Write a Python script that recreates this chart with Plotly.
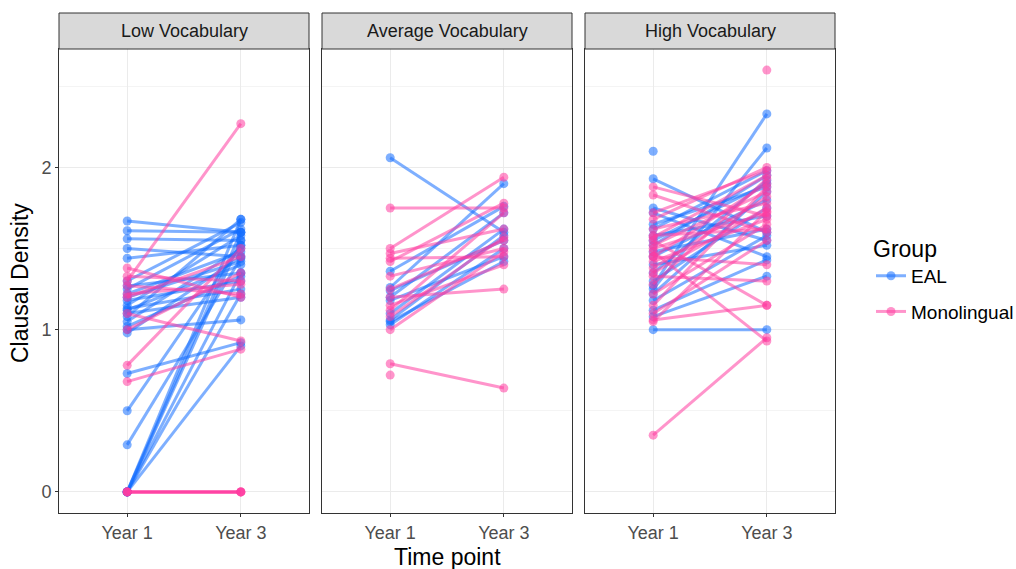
import plotly.graph_objects as go

facets = ["Low Vocabulary", "Average Vocabulary", "High Vocabulary"]
time_points = ["Year 1", "Year 3"]
groups = ["EAL", "Monolingual"]

# Low Vocabulary
low_eal_y1 = [1.67, 1.61, 1.56, 1.50, 1.44, 1.30, 1.27, 1.25, 1.22, 1.20, 1.18, 1.15, 1.13, 1.12, 1.10,
              1.08, 1.05, 1.02, 1.00, 0.98, 0.73, 0.50, 0.29, 0, 0, 0, 0, 0, 0]
low_eal_y3 = [1.60, 1.60, 1.55, 1.45, 1.52, 1.66, 1.35, 1.62, 1.48, 1.42, 1.30, 1.58, 1.25, 1.40, 1.20,
              1.68, 1.50, 1.33, 1.06, 1.45, 0.92, 1.52, 1.44, 1.68, 1.60, 1.35, 1.22, 0.90, 1.55]
low_mono_y1 = [1.38, 1.33, 1.30, 1.27, 1.22, 1.20, 1.10, 1.00, 0.78, 0.68, 0, 0, 0, 0]
low_mono_y3 = [1.20, 1.30, 2.27, 1.22, 1.28, 1.45, 0.93, 1.35, 1.50, 0.88, 0, 0, 0, 0]

# Average Vocabulary
avg_eal_y1 = [2.06, 1.36, 1.26, 1.24, 1.20, 1.18, 1.10, 1.06, 1.05, 1.03]
avg_eal_y3 = [1.60, 1.76, 1.90, 1.55, 1.72, 1.45, 1.62, 1.58, 1.42, 1.50]
avg_mono_y1 = [1.75, 1.50, 1.47, 1.44, 1.42, 1.33, 1.25, 1.20, 1.15, 1.12, 1.08, 1.00, 0.79, 0.72]
avg_mono_y3 = [1.75, 1.94, 1.62, 1.45, 1.78, 1.50, 1.55, 1.25, 1.40, 1.72, 1.57, 1.48, 0.64, None]

# High Vocabulary
high_eal_y1 = [2.10, 1.93, 1.75, 1.72, 1.65, 1.62, 1.58, 1.55, 1.52, 1.48, 1.45, 1.40, 1.35, 1.30,
               1.27, 1.25, 1.22, 1.18, 1.12, 1.08, 1.00]
high_eal_y3 = [None, 1.60, 1.55, 1.45, 1.88, 1.98, 1.70, 1.90, 1.95, 1.62, 1.80, 1.52, 1.92, 1.75,
               2.33, 2.12, 1.85, 1.58, 1.43, 1.33, 1.00]
high_mono_y1 = [None, 1.88, 1.83, 1.72, 1.68, 1.62, 1.58, 1.57, 1.55, 1.52, 1.50, 1.48, 1.45, 1.45,
                1.42, 1.38, 1.35, 1.33, 1.28, 1.22, 1.15, 1.10, 1.06, 1.05, 0.35]
high_mono_y3 = [2.60, 1.70, 1.60, 1.98, 2.00, 1.78, 1.62, 1.95, 1.15, 1.85, 1.72, 0.93, 1.90, 1.40,
                1.68, 1.82, 1.75, 1.30, 1.93, 1.65, 1.88, 1.55, 1.15, 1.73, 0.95]

facet_data = [
    (low_eal_y1, low_eal_y3, low_mono_y1, low_mono_y3),
    (avg_eal_y1, avg_eal_y3, avg_mono_y1, avg_mono_y3),
    (high_eal_y1, high_eal_y3, high_mono_y1, high_mono_y3),
]

colors = {"EAL": "rgba(20,110,255,0.55)", "Monolingual": "rgba(255,60,160,0.55)"}
FONT = "Liberation Sans"

fig = go.Figure()
W, H = 1016, 569
L, R, T, B = 59, 835, 49, 513
pw = R - L
ph = B - T
panels_px = [(59, 309), (322, 572), (585, 835)]
domains = [[(a - L) / pw, (b - L) / pw] for a, b in panels_px]

shown = set()
for i, (e1, e3, m1, m3) in enumerate(facet_data):
    xa = "x" if i == 0 else f"x{i+1}"
    ya = "y" if i == 0 else f"y{i+1}"
    for g, y1s, y3s in (("EAL", e1, e3), ("Monolingual", m1, m3)):
        for a, b in zip(y1s, y3s):
            xs, ys = [], []
            if a is not None:
                xs.append(time_points[0]); ys.append(a)
            if b is not None:
                xs.append(time_points[1]); ys.append(b)
            first = g not in shown
            shown.add(g)
            fig.add_trace(go.Scatter(
                x=xs, y=ys, mode="lines+markers", xaxis=xa, yaxis=ya,
                line=dict(color=colors[g], width=3),
                marker=dict(color=colors[g], size=9),
                name=g, legendgroup=g, showlegend=first,
                hoverinfo="skip"))

axis_common = dict(
    showline=True, linecolor="#333333", linewidth=1, mirror=True,
    gridcolor="#EBEBEB", gridwidth=1.2, zeroline=False,
    ticks="outside", ticklen=3, tickcolor="#333333",
    tickfont=dict(family=FONT, size=18, color="#4D4D4D"),
)
layout = {}
for i in range(3):
    xk = "xaxis" if i == 0 else f"xaxis{i+1}"
    yk = "yaxis" if i == 0 else f"yaxis{i+1}"
    yanchor = "y" if i == 0 else f"y{i+1}"
    xanchor = "x" if i == 0 else f"x{i+1}"
    layout[xk] = dict(axis_common, domain=domains[i], anchor=yanchor,
                      type="category", categoryorder="array", categoryarray=time_points,
                      range=[-0.6, 1.6], showgrid=True)
    layout[yk] = dict(axis_common, domain=[0, 1], anchor=xanchor,
                      range=[-0.13, 2.73], tickvals=[0, 1, 2], showgrid=True,
                      showticklabels=(i == 0), ticks="outside" if i == 0 else "",
                      minor=dict(tickvals=[0.5, 1.5, 2.5], showgrid=True,
                                 gridcolor="#F4F4F4", gridwidth=1, ticks=""))

shapes = []
annotations = []
strip_h = 36 / ph
for i, d in enumerate(domains):
    shapes.append(dict(type="rect", xref="paper", yref="paper",
                       x0=d[0], x1=d[1], y0=1, y1=1 + strip_h,
                       fillcolor="#D9D9D9", line=dict(color="#333333", width=1)))
    annotations.append(dict(text=facets[i], xref="paper", yref="paper",
                            x=(d[0] + d[1]) / 2, y=1 + strip_h / 2, showarrow=False,
                            font=dict(family=FONT, size=18, color="#1A1A1A"),
                            xanchor="center", yanchor="middle"))
annotations.append(dict(text="Time point", xref="paper", yref="paper",
                        x=(447 - L) / pw, y=(B - 557) / ph, showarrow=False,
                        font=dict(family=FONT, size=23, color="#000000"),
                        xanchor="center", yanchor="middle"))
annotations.append(dict(text="Clausal Density", xref="paper", yref="paper",
                        x=(20 - L) / pw, y=(B - 283) / ph, showarrow=False, textangle=-90,
                        font=dict(family=FONT, size=23, color="#000000"),
                        xanchor="center", yanchor="middle"))

fig.update_layout(
    width=W, height=H,
    margin=dict(l=L, r=W - R, t=T, b=H - B, autoexpand=False),
    paper_bgcolor="white", plot_bgcolor="white",
    shapes=shapes, annotations=annotations,
    legend=dict(title=dict(text="Group", font=dict(family=FONT, size=23, color="#000")),
                font=dict(family=FONT, size=19, color="#000"),
                x=(871 - L) / pw, xanchor="left", y=(B - 279) / ph, yanchor="middle",
                bgcolor="rgba(0,0,0,0)", tracegroupgap=8, itemwidth=30),
    **layout,
)

fig.write_html("out.html")
